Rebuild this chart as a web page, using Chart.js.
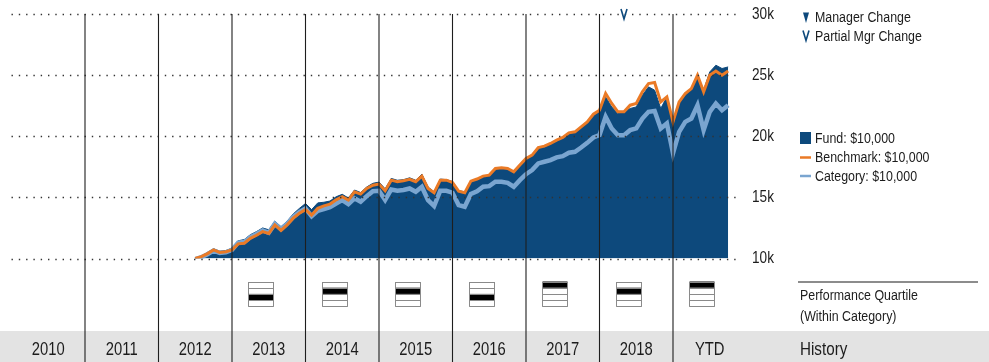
<!DOCTYPE html>
<html>
<head>
<meta charset="utf-8">
<script src="https://cdn.jsdelivr.net/npm/chart.js@4.4.1/dist/chart.umd.min.js"></script>
<style>
  html, body { margin: 0; padding: 0; background: #fff; }
  #wrap { width: 989px; height: 362px; position: relative; }
</style>
</head>
<body>
<div id="wrap"><canvas id="growth" width="989" height="362"></canvas></div>
<script>
// Growth of $10,000 — monthly values in thousands of dollars
const yearLabels = ['2010', '2011', '2012', '2013', '2014', '2015', '2016', '2017', '2018', 'YTD'];
const quartileRank = [null, null, null, 3, 2, 2, 3, 1, 2, 1];   // 1 = top quartile
const firstMonth = '2012-06';
const partialMgrChanges = ['2018-04'];
const yTicks = [10, 15, 20, 25, 30];

const fundValues = [
  10.0, 10.2, 10.5, 10.8, 10.6, 10.65, 10.85,
  11.45, 11.55, 11.95, 12.2, 12.5, 12.35, 13.05, 12.6, 13.05, 13.65, 14.1, 14.5,
  14.0, 14.55, 14.6, 14.7, 15.05, 15.25, 14.95, 15.6, 15.4, 15.85, 16.15, 16.25,
  15.7, 16.55, 16.4, 16.45, 16.6, 16.4, 16.9, 15.85, 15.45, 16.5, 16.45, 16.3,
  15.55, 15.45, 16.35, 16.5, 16.75, 16.8, 17.35, 17.4, 17.35, 17.05, 17.6, 18.15,
  18.45, 19.0, 19.1, 19.35, 19.6, 19.85, 20.2, 20.3, 20.7, 21.1, 21.7, 22.0,
  23.22, 22.4, 21.86, 21.99, 22.27, 22.4, 23.36, 24.04, 23.77, 22.27, 23.22, 20.9,
  22.68, 23.36, 23.9, 24.85, 23.77, 25.26, 25.81, 25.54, 25.67
];
const benchmarkValues = [
  10.0, 10.15, 10.4, 10.7, 10.5, 10.55, 10.7,
  11.2, 11.25, 11.65, 11.9, 12.2, 12.05, 12.75, 12.3, 12.75, 13.3, 13.7, 14.0,
  13.55, 14.1, 14.3, 14.45, 14.8, 15.05, 14.78, 15.46, 15.27, 15.73, 16.0, 16.09,
  15.54, 16.41, 16.28, 16.36, 16.47, 16.28, 16.74, 15.73, 15.38, 16.41, 16.41, 16.22,
  15.51, 15.38, 16.33, 16.5, 16.74, 16.82, 17.37, 17.42, 17.37, 17.09, 17.64, 18.18,
  18.46, 19.08, 19.19, 19.41, 19.68, 19.9, 20.28, 20.36, 20.77, 21.18, 21.8, 22.13,
  23.5, 22.68, 22.0, 22.0, 22.54, 22.68, 23.63, 24.31, 24.4, 22.81, 23.22, 21.18,
  22.81, 23.5, 23.9, 24.99, 23.63, 24.99, 25.34, 24.99, 25.34
];
const categoryValues = [
  9.95, 10.1, 10.35, 10.65, 10.45, 10.5, 10.7,
  11.3, 11.35, 11.75, 12.0, 12.3, 12.1, 12.85, 12.4, 12.85, 13.4, 13.8, 14.1,
  13.45, 13.9, 14.05, 14.2, 14.5, 14.78, 14.45, 14.92, 14.64, 15.1, 15.5, 15.54,
  14.78, 15.65, 15.54, 15.6, 15.73, 15.46, 15.87, 14.78, 14.29, 15.54, 15.54, 15.38,
  14.37, 14.23, 15.27, 15.5, 15.87, 15.92, 16.28, 16.28, 16.19, 15.87, 16.41, 16.9,
  17.23, 17.78, 17.91, 18.05, 18.27, 18.37, 18.65, 18.73, 19.08, 19.46, 19.9, 20.1,
  21.59, 20.64, 20.09, 20.09, 20.5, 20.64, 21.45, 22.0, 22.07, 20.64, 21.05, 18.6,
  20.36, 21.18, 21.45, 22.54, 20.5, 22.0, 22.68, 22.13, 22.54
];

const COLORS = {
  fund: '#0d497c',
  benchmark: '#ea7a26',
  category: '#7aa5d0',
  text: '#1c1c1c',
  divider: '#1e1e1e',
  band: '#e3e3e3'
};
const FONT = "'Liberation Sans', Arial, sans-serif";
const NARROW = 0.8;   // horizontal squeeze for a condensed look

// month-end index counted from the start of the first year column
const startYear = 2010;
function monthIndex(ym) {
  const [y, m] = ym.split('-').map(Number);
  return (y - startYear) * 12 + m;
}
const x0 = monthIndex(firstMonth);
const toPoints = arr => arr.map((v, i) => ({ x: x0 + i, y: v }));

function narrowText(ctx, txt, x, y, size, align) {
  ctx.save();
  ctx.font = `${size}px ${FONT}`;
  ctx.textAlign = align || 'left';
  ctx.textBaseline = 'middle';
  ctx.translate(x, y);
  ctx.scale(NARROW, 1);
  ctx.fillText(txt, 0, 0);
  ctx.restore();
}

function drawV(ctx, cx, top, h) {
  ctx.save();
  ctx.strokeStyle = COLORS.fund;
  ctx.lineWidth = 1.6;
  ctx.beginPath();
  ctx.moveTo(cx - 3, top);
  ctx.lineTo(cx, top + h);
  ctx.lineTo(cx + 3, top);
  ctx.stroke();
  ctx.restore();
}

const overlay = {
  id: 'overlay',
  afterDatasetsDraw(chart) {
    const { ctx, chartArea: ca, scales: { y } } = chart;
    ctx.save();
    // dotted value gridlines
    ctx.strokeStyle = '#333';
    ctx.lineWidth = 1.4;
    ctx.setLineDash([1.4, 5.9]);
    y.ticks.forEach(t => {
      const py = Math.round(y.getPixelForValue(t.value)) + 0.5;
      ctx.beginPath();
      ctx.moveTo(ca.left, py);
      ctx.lineTo(ca.right - 6, py);
      ctx.stroke();
    });
    ctx.restore();
  },
  afterDraw(chart) {
    const { ctx, chartArea: ca, scales: { x, y } } = chart;
    const W = chart.width, H = chart.height;
    ctx.save();

    // value axis labels
    ctx.fillStyle = COLORS.text;
    y.ticks.forEach(t => {
      narrowText(ctx, t.value + 'k', ca.right + 5.5, y.getPixelForValue(t.value), 17, 'left');
    });

    // history band
    const bandTop = 331;
    ctx.fillStyle = COLORS.band;
    ctx.fillRect(0, bandTop, W, H - bandTop);

    // year dividers
    ctx.strokeStyle = COLORS.divider;
    ctx.lineWidth = 1.1;
    for (let k = 1; k < yearLabels.length; k++) {
      const px = x.getPixelForValue(k * 12);
      ctx.beginPath();
      ctx.moveTo(px, ca.top);
      ctx.lineTo(px, H);
      ctx.stroke();
    }

    // year labels
    ctx.fillStyle = COLORS.text;
    yearLabels.forEach((lab, k) => {
      const cx = (x.getPixelForValue(k * 12) + x.getPixelForValue((k + 1) * 12)) / 2;
      narrowText(ctx, lab, cx, 350, 18.5, 'center');
    });

    // quartile boxes
    const boxW = 25, rowH = 6.2, boxTop = 281.5;
    quartileRank.forEach((q, k) => {
      if (!q) return;
      const left = Math.round(x.getPixelForValue(k * 12) + 16) + 0.5;
      ctx.fillStyle = '#000';
      ctx.fillRect(left, boxTop + (q - 1) * rowH, boxW, rowH);
      ctx.strokeStyle = '#8a8a8a';
      ctx.lineWidth = 1;
      for (let r = 0; r <= 4; r++) {
        const ry = Math.round(boxTop + r * rowH) + 0.5;
        ctx.beginPath(); ctx.moveTo(left, ry); ctx.lineTo(left + boxW, ry); ctx.stroke();
      }
      ctx.beginPath();
      ctx.moveTo(left, boxTop + 0.5); ctx.lineTo(left, boxTop + 4 * rowH + 0.5);
      ctx.moveTo(left + boxW, boxTop + 0.5); ctx.lineTo(left + boxW, boxTop + 4 * rowH + 0.5);
      ctx.stroke();
    });

    // partial manager change marks along the top
    partialMgrChanges.forEach(ym => {
      drawV(ctx, x.getPixelForValue(monthIndex(ym)), 9, 10);
    });

    // legend, right side
    const lx = 800, tx = 815;
    ctx.fillStyle = COLORS.fund;
    ctx.beginPath();
    ctx.moveTo(803, 12.5); ctx.lineTo(809, 12.5); ctx.lineTo(806, 23); ctx.closePath();
    ctx.fill();
    drawV(ctx, 806, 30.5, 10);
    ctx.fillStyle = COLORS.text;
    narrowText(ctx, 'Manager Change', tx, 18, 15.5);
    narrowText(ctx, 'Partial Mgr Change', tx, 36.5, 15.5);

    ctx.fillStyle = COLORS.fund;
    ctx.fillRect(lx, 132, 11, 12);
    ctx.lineWidth = 2.5;
    ctx.strokeStyle = COLORS.benchmark;
    ctx.beginPath(); ctx.moveTo(lx, 157.5); ctx.lineTo(lx + 11, 157.5); ctx.stroke();
    ctx.strokeStyle = COLORS.category;
    ctx.beginPath(); ctx.moveTo(lx, 176); ctx.lineTo(lx + 11, 176); ctx.stroke();
    ctx.fillStyle = COLORS.text;
    narrowText(ctx, 'Fund: $10,000', tx, 139, 15.5);
    narrowText(ctx, 'Benchmark: $10,000', tx, 158, 15.5);
    narrowText(ctx, 'Category: $10,000', tx, 176.5, 15.5);

    // quartile / history captions
    ctx.fillStyle = '#8c8c8c';
    ctx.fillRect(798, 281, 180, 2);
    ctx.fillStyle = COLORS.text;
    narrowText(ctx, 'Performance Quartile', lx, 296, 15.5);
    narrowText(ctx, '(Within Category)', lx, 317, 15.5);
    narrowText(ctx, 'History', lx, 350, 19);
    ctx.restore();
  }
};

new Chart(document.getElementById('growth'), {
  type: 'line',
  data: {
    datasets: [
      {
        label: 'Benchmark: $10,000',
        data: toPoints(benchmarkValues),
        borderColor: COLORS.benchmark,
        borderWidth: 3,
        pointRadius: 0,
        fill: false,
        order: 0
      },
      {
        label: 'Category: $10,000',
        data: toPoints(categoryValues),
        borderColor: COLORS.category,
        borderWidth: 4.5,
        pointRadius: 0,
        fill: false,
        order: 1
      },
      {
        label: 'Fund: $10,000',
        data: toPoints(fundValues),
        borderColor: COLORS.fund,
        backgroundColor: COLORS.fund,
        borderWidth: 1,
        pointRadius: 0,
        fill: 'start',
        order: 2
      }
    ]
  },
  options: {
    responsive: false,
    animation: false,
    events: [],
    layout: { padding: { left: 11.5, right: 192.5, top: 14, bottom: 103.5 } },
    plugins: { legend: { display: false }, tooltip: { enabled: false } },
    scales: {
      x: { type: 'linear', min: 0, max: yearLabels.length * 12, display: false },
      y: {
        position: 'right',
        min: 10,
        max: 30,
        afterFit(scale) { scale.width = 50; },
        afterBuildTicks(scale) { scale.ticks = yTicks.map(v => ({ value: v })); },
        grid: { display: false, drawTicks: false },
        border: { display: false },
        ticks: { display: false }
      }
    }
  },
  plugins: [overlay]
});
</script>
</body>
</html>
